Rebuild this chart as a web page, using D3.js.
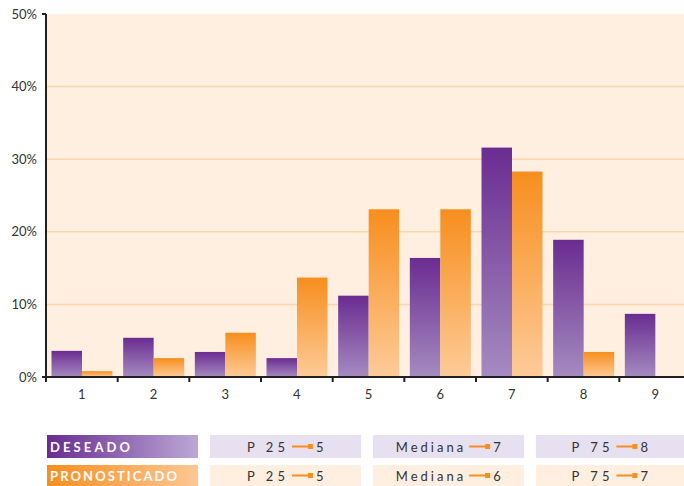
<!DOCTYPE html>
<html>
<head>
<meta charset="utf-8">
<script src="https://cdn.jsdelivr.net/npm/d3@7"></script>
<style>
  html, body { margin: 0; padding: 0; background: #ffffff; }
  svg { display: block; }
  text { font-family: "Lato", "Open Sans", sans-serif; fill: #333; }
</style>
</head>
<body>
<svg id="chart" width="684" height="486"></svg>
<script>
// Distribution of answers (share of respondents) on a 1–9 scale
const categories = ["1", "2", "3", "4", "5", "6", "7", "8", "9"];
const deseado = [3.6, 5.4, 3.45, 2.6, 11.2, 16.4, 31.6, 18.9, 8.7];
const pronosticado = [0.8, 2.6, 6.1, 13.7, 23.1, 23.1, 28.3, 3.45, null];
const yTicks = [0, 10, 20, 30, 40, 50];

// Summary statistics shown below the chart
const statLabels = ["P 25", "Mediana", "P 75"];
const statDeseado = [5, 7, 8];
const statPronosticado = [5, 6, 7];

const svg = d3.select("#chart");
const W = 684;
const margin = { left: 46, top: 14 };
const plotBottom = 377;
const bandEnd = 691; // last band runs slightly past the right edge

const x = d3.scaleBand().domain(categories).range([margin.left, bandEnd]);
const y = d3.scaleLinear().domain([0, 50]).range([plotBottom, margin.top]);

// Gradients for bars and legend swatches
const defs = svg.append("defs");
function vGrad(id, top, bottom) {
  const g = defs.append("linearGradient").attr("id", id)
    .attr("x1", 0).attr("y1", 0).attr("x2", 0).attr("y2", 1);
  g.append("stop").attr("offset", "0%").attr("stop-color", top);
  g.append("stop").attr("offset", "100%").attr("stop-color", bottom);
}
function hGrad(id, left, right) {
  const g = defs.append("linearGradient").attr("id", id)
    .attr("x1", 0).attr("y1", 0).attr("x2", 1).attr("y2", 0);
  g.append("stop").attr("offset", "0%").attr("stop-color", left);
  g.append("stop").attr("offset", "100%").attr("stop-color", right);
}
vGrad("gPurple", "#6a2c91", "#a58bc0");
vGrad("gOrange", "#f78e1e", "#fdcb98");
hGrad("hPurple", "#6a2c91", "#bba8d6");
hGrad("hOrange", "#f78e1e", "#fdc793");

// Plot background
svg.append("rect")
  .attr("x", margin.left).attr("y", y(50))
  .attr("width", W - margin.left).attr("height", plotBottom - y(50))
  .attr("fill", "#feefe0");

// Horizontal gridlines
svg.append("g").selectAll("line")
  .data(yTicks.filter(t => t > 0 && t < 50))
  .join("line")
  .attr("x1", margin.left).attr("x2", W)
  .attr("y1", d => y(d)).attr("y2", d => y(d))
  .attr("stroke", "#fcd5ab").attr("stroke-width", 1.5);

// Bars
const barW = 30.5;
const offset = 5.5;
const gBars = svg.append("g");
categories.forEach((c, i) => {
  const x0 = x(c) + offset;
  gBars.append("rect")
    .attr("x", x0).attr("y", y(deseado[i]))
    .attr("width", barW).attr("height", plotBottom - y(deseado[i]))
    .attr("fill", "url(#gPurple)");
  if (pronosticado[i] != null) {
    gBars.append("rect")
      .attr("x", x0 + barW).attr("y", y(pronosticado[i]))
      .attr("width", barW).attr("height", plotBottom - y(pronosticado[i]))
      .attr("fill", "url(#gOrange)");
  }
});

// Y axis
const yAxis = d3.axisLeft(y).tickValues(yTicks).tickFormat(d => d + "%").tickSize(0).tickPadding(9);
const gy = svg.append("g").attr("transform", `translate(${margin.left},0)`).call(yAxis);
gy.select(".domain").remove();
gy.selectAll("text").attr("font-size", 13).attr("fill", "#333");
svg.append("line")
  .attr("x1", margin.left).attr("x2", margin.left)
  .attr("y1", y(50)).attr("y2", plotBottom + 1)
  .attr("stroke", "#231f20").attr("stroke-width", 2);
[50, 0].forEach(t => {
  svg.append("line")
    .attr("x1", margin.left - 4).attr("x2", margin.left)
    .attr("y1", y(t)).attr("y2", y(t))
    .attr("stroke", "#231f20").attr("stroke-width", 2);
});

// X axis
const gx = svg.append("g").attr("transform", `translate(0,${plotBottom})`)
  .call(d3.axisBottom(x).tickSize(0).tickPadding(13));
gx.select(".domain").remove();
gx.selectAll("text").attr("font-size", 13).attr("fill", "#333");
svg.append("line")
  .attr("x1", margin.left - 4).attr("x2", W)
  .attr("y1", plotBottom).attr("y2", plotBottom)
  .attr("stroke", "#231f20").attr("stroke-width", 2);
svg.append("g").selectAll("line")
  .data(categories)
  .join("line")
  .attr("x1", d => x(d)).attr("x2", d => x(d))
  .attr("y1", plotBottom).attr("y2", plotBottom + 5)
  .attr("stroke", "#231f20").attr("stroke-width", 2);

// Legend table
const rows = [
  { name: "DESEADO", nameW: 80, grad: "url(#hPurple)", cell: "#e7e0f0", vals: statDeseado, y: 435, h: 23 },
  { name: "PRONOSTICADO", nameW: 127, grad: "url(#hOrange)", cell: "#feefe0", vals: statPronosticado, y: 465, h: 21 }
];
const cells = [
  { x: 210, w: 151 },
  { x: 373, w: 151 },
  { x: 536, w: 148 }
];
const leg = svg.append("g");
rows.forEach(r => {
  leg.append("rect").attr("x", 47).attr("y", r.y).attr("width", 151).attr("height", r.h).attr("fill", r.grad);
  leg.append("text")
    .attr("x", 50).attr("y", r.y + r.h / 2 + 5)
    .attr("font-size", 13).attr("font-weight", 700)
    .attr("textLength", r.nameW).attr("lengthAdjust", "spacing")
    .style("fill", "#ffffff")
    .text(r.name);
  cells.forEach((c, j) => {
    leg.append("rect").attr("x", c.x).attr("y", r.y).attr("width", c.w).attr("height", r.h).attr("fill", r.cell);
    const cy = r.y + r.h / 2;
    const label = leg.append("text")
      .attr("y", cy + 5).attr("font-size", 13)
      .attr("letter-spacing", statLabels[j] === "Mediana" ? "3px" : "4px")
      .style("fill", "#333")
      .text(statLabels[j]);
    const lw = label.node().getComputedTextLength();
    const total = lw + 3 + 21 + 3 + 8;
    const sx = c.x + (c.w - total) / 2;
    label.attr("x", sx);
    const lx = sx + lw + 3;
    leg.append("line").attr("x1", lx).attr("x2", lx + 19).attr("y1", cy).attr("y2", cy)
      .attr("stroke", "#f78e1e").attr("stroke-width", 2);
    leg.append("rect").attr("x", lx + 16).attr("y", cy - 2.5).attr("width", 5).attr("height", 5).attr("fill", "#f78e1e");
    leg.append("text").attr("x", lx + 24).attr("y", cy + 5).attr("font-size", 13)
      .style("fill", "#333").text(r.vals[j]);
  });
});
</script>
</body>
</html>
